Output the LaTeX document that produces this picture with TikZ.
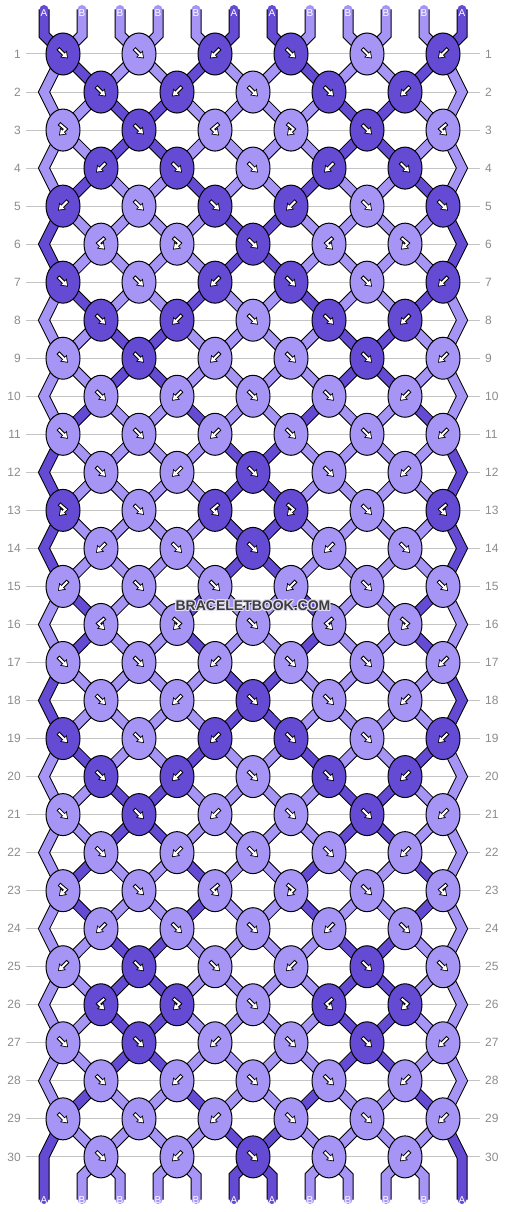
\documentclass[tikz,border=0pt]{standalone}
\usepackage{fontspec}
\setmainfont{Liberation Sans}
\usetikzlibrary{arrows.meta,shapes.geometric}

\definecolor{dk}{HTML}{654BD3}
\definecolor{lt}{HTML}{A795F6}
\definecolor{guidegray}{HTML}{C4C4C4}
\definecolor{numgray}{HTML}{8C8C8C}
\definecolor{markgray}{HTML}{3C3C3C}
\definecolor{halo}{HTML}{E4E0F2}

\pgfdeclarelayer{rules}
\pgfdeclarelayer{strands}
\pgfsetlayers{rules,strands,main}

% string colours, kept globally while the rows are tied
\newcommand\setstr[2]{\expandafter\xdef\csname str#1\endcsname{#2}}

% knot kinds: which string is on top, and do the strings change place
\newcommand\kindf{\def\takes{L}\def\swaps{1}}
\newcommand\kindb{\def\takes{R}\def\swaps{1}}
\newcommand\kindfb{\def\takes{L}\def\swaps{0}}
\newcommand\kindbf{\def\takes{R}\def\swaps{0}}

% arrow inside a knot
\newcommand\glyph[2]{%
  \begin{scope}[shift={(#1.center)}]
    \draw[glyphout] #2;
    \draw[glyphin] #2;
  \end{scope}}
\newcommand\glyphf[1]{\glyph{#1}{(-5,-5.5) -- (5,4.5)}}
\newcommand\glyphb[1]{\glyph{#1}{(5,-5.5) -- (-5,4.5)}}
\newcommand\glyphfb[1]{\glyph{#1}{(-4,-6.5) -- (2.5,-1) -- (-4,5.5)}}
\newcommand\glyphbf[1]{\glyph{#1}{(4,-6.5) -- (-2.5,-1) -- (4,5.5)}}

% watermark with a light halo
\newcommand\halocopy[3]{\rlap{\hspace*{#1}\raisebox{#2}{\textcolor{halo}{#3}}}}
\newcommand\haloed[1]{\halocopy{-1pt}{0pt}{#1}\halocopy{1pt}{0pt}{#1}%
  \halocopy{0pt}{1pt}{#1}\halocopy{0pt}{-1pt}{#1}\halocopy{-1pt}{1pt}{#1}%
  \halocopy{1pt}{1pt}{#1}\halocopy{-1pt}{-1pt}{#1}\halocopy{1pt}{-1pt}{#1}#1}

\tikzset{
  knot/.style={ellipse, draw=black, line width=1pt, minimum width=34pt,
    minimum height=42pt, inner sep=0pt},
  strand/.style={line width=9pt, preaction={draw=black, line width=11pt}},
  guide/.style={draw=guidegray, line width=1pt},
  rownum/.style={text=numgray, inner sep=0pt, font=\fontsize{12}{14}\selectfont},
  endlabel/.style={text=white, inner sep=0pt, font=\fontsize{10}{12}\selectfont},
  glyphout/.style={draw=black, line width=4pt, -{Triangle[length=6.5pt,width=9pt]}},
  glyphin/.style={draw=white, line width=2pt, shorten <=1pt, shorten >=1.3pt,
    -{Triangle[length=4.5pt,width=6pt]}},
}

\begin{document}
\begin{tikzpicture}[x=1pt,y=-1pt]
\useasboundingbox (0,0) rectangle (506,1212);
\begin{pgfonlayer}{rules}
  \fill[white] (0,0) rectangle (506,1212);
\end{pgfonlayer}

% strings and their ends
\foreach \col/\lab [count=\i] in {dk/A,lt/B,lt/B,lt/B,lt/B,dk/A,dk/A,lt/B,lt/B,lt/B,lt/B,dk/A}{
  \setstr{\i}{\col}
  \expandafter\xdef\csname c-0-\i\endcsname{\col}
  \pgfmathsetmacro\xx{44+38*(\i-1)}
  \coordinate (ts-\i) at (\xx,9.5);
  \coordinate (top-\i) at (\xx,35);
  \coordinate (bot-\i) at (\xx,1176);
  \coordinate (be-\i) at (\xx,1199.5);
  \node[endlabel] (top-lab-\i) at (\xx,13) {\lab};
  \node[endlabel] (bot-lab-\i) at (\xx,1200) {\lab};
}

% rows of knots
\foreach \r/\kinds in {1/{f,f,b,f,f,b},2/{f,b,f,f,b},3/{fb,f,bf,fb,f,bf},
    4/{b,f,f,b,f},5/{b,f,f,b,f,f},6/{bf,fb,f,bf,fb},7/{f,f,b,f,f,b},
    8/{f,b,f,f,b},9/{f,f,b,f,f,b},10/{f,b,f,f,b},11/{f,f,b,f,f,b},
    12/{f,b,f,f,b},13/{fb,f,bf,fb,f,bf},14/{b,f,f,b,f},15/{b,f,f,b,f,f},
    16/{bf,fb,f,bf,fb},17/{f,f,b,f,f,b},18/{f,b,f,f,b},19/{f,f,b,f,f,b},
    20/{f,b,f,f,b},21/{f,f,b,f,f,b},22/{f,b,f,f,b},23/{fb,f,bf,fb,f,bf},
    24/{b,f,f,b,f},25/{b,f,f,b,f,f},26/{bf,fb,f,bf,fb},27/{f,f,b,f,f,b},
    28/{f,b,f,f,b},29/{f,f,b,f,f,b},30/{f,b,f,f,b}}{
  \pgfmathsetmacro\yy{54+38.03*(\r-1)}
  \pgfmathtruncatemacro\firstpos{isodd(\r) ? 1 : 2}
  \begin{pgfonlayer}{rules}
    \draw[guide] (26,\yy) -- (480,\yy);
  \end{pgfonlayer}
  \node[rownum, anchor=east] (num-l-\r) at (21,\yy) {\r};
  \node[rownum, anchor=west] (num-r-\r) at (485,\yy) {\r};
  \foreach \kd [count=\c] in \kinds {
    \pgfmathtruncatemacro\p{\firstpos+2*(\c-1)}
    \pgfmathtruncatemacro\q{\p+1}
    \edef\lc{\csname str\p\endcsname}
    \edef\rc{\csname str\q\endcsname}
    \csname kind\kd\endcsname
    \if L\takes \let\kc\lc \else \let\kc\rc \fi
    \node[knot, fill=\kc] (k-\r-\c) at ({63+38*(\p-1)},\yy) {};
    \csname glyph\kd\endcsname{k-\r-\c}
    \coordinate (h-\r-\p) at (k-\r-\c.center);
    \coordinate (h-\r-\q) at (k-\r-\c.center);
    \ifnum\swaps=1 \setstr{\p}{\rc}\setstr{\q}{\lc}\fi
  }
  \ifnum\firstpos=2
    \coordinate (h-\r-1) at (44,\yy);
    \coordinate (h-\r-12) at (462,\yy);
  \fi
  \foreach \i in {1,...,12}{
    \expandafter\xdef\csname c-\r-\i\endcsname{\csname str\i\endcsname}
  }
}

% the strings between the knots
\begin{pgfonlayer}{strands}
  \foreach \i in {2,...,11}{
    \edef\col{\csname c-0-\i\endcsname}
    \draw[strand, line cap=round, draw=\col] (ts-\i) -- (top-\i) -- (h-1-\i);
    \foreach \r in {1,...,29}{
      \pgfmathtruncatemacro\rn{\r+1}
      \edef\col{\csname c-\r-\i\endcsname}
      \draw[strand, draw=\col] (h-\r-\i) -- (h-\rn-\i);
    }
    \edef\col{\csname c-30-\i\endcsname}
    \draw[strand, line cap=round, draw=\col] (h-30-\i) -- (bot-\i) -- (be-\i);
  }
  \foreach \i in {1,12}{
    \edef\col{\csname c-0-\i\endcsname}
    \draw[strand, line cap=round, draw=\col] (ts-\i) -- (top-\i) -- (h-1-\i);
    \foreach \r in {1,3,...,27}{
      \pgfmathtruncatemacro\rn{\r+1}
      \pgfmathtruncatemacro\rnn{\r+2}
      \edef\col{\csname c-\r-\i\endcsname}
      \draw[strand, draw=\col] (h-\r-\i) -- (h-\rn-\i) -- (h-\rnn-\i);
    }
    \edef\col{\csname c-29-\i\endcsname}
    \draw[strand, line cap=round, draw=\col] (h-29-\i) -- (h-30-\i) -- (be-\i);
  }
\end{pgfonlayer}

\node[text=markgray, inner sep=0pt, font=\bfseries\fontsize{14}{16}\selectfont]
  (mark) at (253,605.5) {\haloed{BRACELETBOOK.COM}};
\end{tikzpicture}
\end{document}
